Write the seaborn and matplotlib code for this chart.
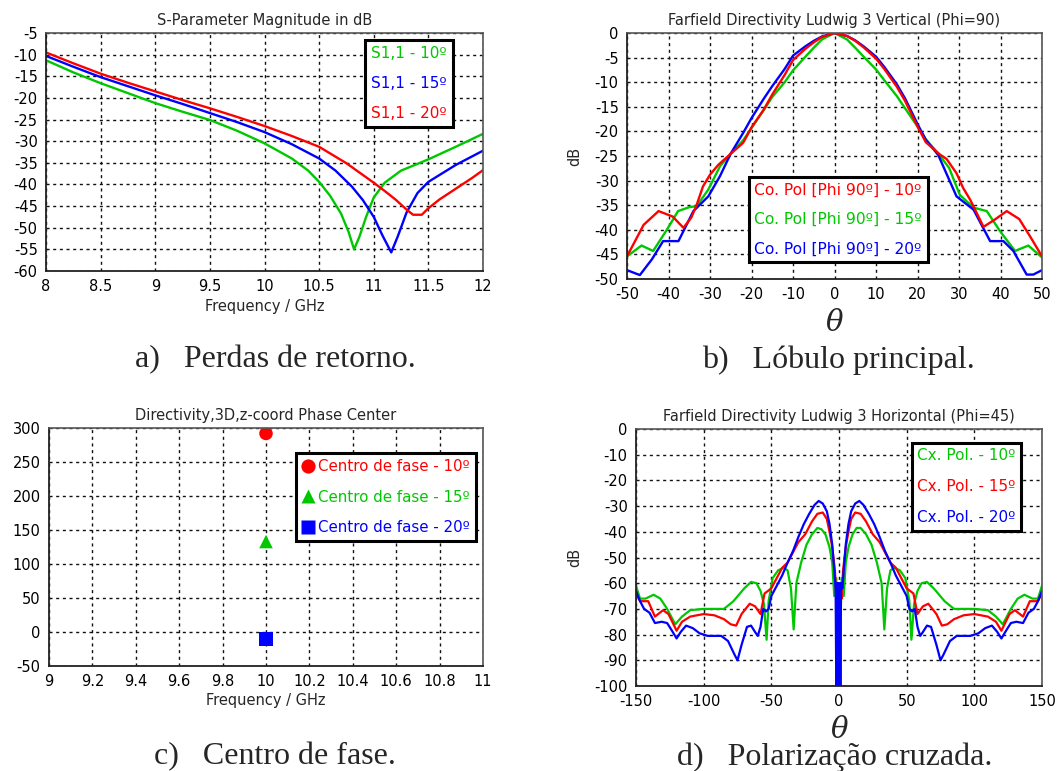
import numpy as np
import pandas as pd
import matplotlib
matplotlib.use("Agg")
import matplotlib.pyplot as plt
import seaborn as sns
from matplotlib.lines import Line2D

# ---------------- data ----------------
# (a) S-parameter magnitude
A_G_F = [8.0, 8.25, 8.5, 8.75, 9.0, 9.25, 9.5, 9.75, 10.0, 10.25, 10.4, 10.5, 10.6, 10.7, 10.77, 10.82, 10.87, 10.93, 11.0, 11.1, 11.25, 11.5, 11.75, 12.0]
A_G = [-11.3, -14.1, -16.6, -18.9, -21.2, -23.2, -25.1, -27.6, -30.5, -34.0, -36.8, -39.4, -42.6, -46.7, -51.0, -55.0, -52.0, -47.5, -43.0, -39.6, -36.8, -34.2, -31.3, -28.3]
A_B_F = [8.0, 8.25, 8.5, 8.75, 9.0, 9.25, 9.5, 9.75, 10.0, 10.25, 10.5, 10.65, 10.8, 10.9, 11.0, 11.08, 11.16, 11.22, 11.3, 11.4, 11.5, 11.75, 12.0]
A_B = [-10.3, -12.8, -15.2, -17.3, -19.4, -21.4, -23.5, -25.6, -27.9, -30.7, -34.0, -36.8, -40.5, -43.6, -47.5, -51.8, -55.7, -52.0, -46.5, -42.0, -39.4, -35.5, -32.2]
A_R_F = [8.0, 8.25, 8.5, 8.75, 9.0, 9.25, 9.5, 9.75, 10.0, 10.25, 10.5, 10.75, 11.0, 11.1, 11.2, 11.3, 11.36, 11.44, 11.5, 11.6, 11.75, 11.9, 12.0]
A_R = [-9.5, -12.0, -14.4, -16.5, -18.5, -20.5, -22.4, -24.4, -26.5, -28.8, -31.3, -35.1, -39.6, -41.5, -43.5, -45.8, -47.0, -47.0, -45.5, -43.5, -41.0, -38.5, -36.7]
A_LABELS = ["S1,1 - 10º", "S1,1 - 15º", "S1,1 - 20º"]

# (b) Co-pol main lobe
B_R_T = [-50, -46, -42.4, -39, -36.4, -34.5, -33.2, -31.7, -30, -28, -25.2, -22, -20, -17, -15, -12, -10, -7, -5, -3, 0,
         3, 5, 7, 10, 12, 15, 17, 20, 22, 25.4, 27, 29.4, 31, 32.7, 35.9, 38.5, 41.5, 44.5, 47.1, 50]
B_R = [-45.4, -39.0, -36.2, -37.3, -39.6, -37.5, -34.9, -31.2, -28.8, -26.8, -24.7, -22.3, -19.2, -15.5, -12.5, -8.5, -5.5, -3.2, -1.9, -0.8, 0.0,
       -0.6, -1.6, -2.9, -5.2, -7.3, -10.9, -13.8, -19.0, -22.2, -24.7, -25.6, -28.5, -31.5, -33.9, -39.4, -38.0, -36.2, -37.8, -41.3, -45.4]
B_G_T = [-50, -46.5, -43.7, -40.4, -37.7, -35, -33.2, -30.4, -27.6, -25, -22, -20, -17, -15, -12, -10, -7, -5, -3, 0,
         3, 5, 7, 10, 12, 15, 17, 20, 22, 25, 27.6, 30.2, 33.5, 36.7, 39.9, 43.5, 46.7, 50]
B_G = [-45.4, -43.2, -44.3, -40.0, -36.2, -35.4, -35.2, -31.8, -27.1, -24.5, -21.8, -19.3, -15.6, -13.0, -10.0, -7.6, -4.8, -3.0, -1.3, 0.0,
       -1.3, -3.0, -4.8, -7.4, -9.6, -12.8, -15.3, -19.0, -21.6, -24.5, -27.4, -32.9, -35.5, -36.2, -40.3, -44.3, -43.2, -45.6]
B_B_T = [-50, -46.9, -44, -41.3, -37.6, -34, -30.4, -27.6, -25, -22, -20, -17, -15, -12, -10, -7, -5, -3, 0,
         3, 5, 7, 10, 12, 15, 17, 20, 22, 25, 29.4, 33.5, 37.5, 40.7, 43.1, 46.3, 47.9, 50]
B_B = [-48.2, -49.2, -46.0, -42.3, -42.3, -36.2, -33.2, -29.1, -24.5, -20.3, -17.3, -13.3, -10.8, -7.3, -4.6, -2.7, -1.6, -0.7, 0.0,
       -0.6, -1.5, -2.7, -4.8, -6.9, -10.4, -13.3, -18.5, -21.7, -24.8, -33.2, -35.9, -42.3, -42.3, -44.3, -49.1, -49.1, -48.2]
B_LABELS = ["Co. Pol [Phi 90º] - 10º", "Co. Pol [Phi 90º] - 15º", "Co. Pol [Phi 90º] - 20º"]

# (c) Phase centre
C_FREQ = [10.0, 10.0, 10.0]
C_Z = [292, 133, -10]
C_LABELS = ["Centro de fase - 10º", "Centro de fase - 15º", "Centro de fase - 20º"]

# (d) Cross-pol
D_G_T = [-150, -147, -143, -137, -132, -127, -121, -116, -110, -100, -90, -85, -78, -70, -65, -61, -58, -55.5, -53.5, -52, -49, -45, -41, -38, -35.5, -33.5, -31.5, -28, -24, -20, -16, -13, -10, -7, -5, -3.5, -2, -1, 0,
         1, 2, 3.5, 5, 7, 10, 13, 16, 20, 24, 28, 31.5, 33.5, 35.5, 38, 41, 45, 49, 52, 53.5, 55.5, 58, 61, 65, 70, 78, 85, 90, 100, 110, 116, 121, 127, 132, 137, 143, 147, 150]
D_G = [-61, -66, -66, -64.5, -66, -70, -76, -73, -70.5, -70, -70, -70, -67, -62, -59.5, -60, -63, -68, -82, -67, -58, -55, -54, -55, -62, -78, -60, -52, -45, -41, -38.5, -39, -41, -46, -52, -65, -58, -77, -100,
       -77, -58, -65, -52, -46, -41, -38.5, -38.5, -41, -45, -52, -60, -78, -62, -55, -54, -55, -58, -67, -82, -68, -63, -60, -59.5, -62, -67, -70, -70, -70, -70.5, -73, -76, -70, -66, -64.5, -66, -66, -61]
D_R_T = [-150, -147, -141, -136, -130, -126, -120, -116, -110, -100, -92, -85, -80, -76, -72, -66, -62, -58, -55, -50, -46, -42, -38, -34, -30, -25, -20, -16, -12, -9, -7, -5, -3, -2, -1, 0,
         1, 2, 3, 5, 7, 9, 12, 16, 20, 25, 30, 34, 38, 42, 46, 50, 55, 58, 62, 66, 72, 76, 80, 85, 92, 100, 110, 116, 120, 126, 130, 136, 141, 147, 150]
D_R = [-64, -67, -67, -73, -70.5, -72, -78.5, -75, -73, -72, -72.5, -74, -76, -76.5, -72, -68, -69, -72, -64, -62, -58, -54, -52, -48, -44, -41, -36, -33, -32.5, -35, -40, -46, -55, -66, -62, -100,
       -62, -66, -55, -46, -40, -35, -32.5, -33, -36, -41, -44, -48, -52, -54, -58, -62, -64, -72, -69, -68, -72, -76.5, -76, -74, -72.5, -72, -73, -75, -78.5, -72, -70.5, -73, -67, -67, -64]
D_B_T = [-150, -147, -144, -140, -136, -131, -127, -124, -120, -117, -113, -108, -103, -97, -87, -82, -77, -75, -72, -68, -65, -62, -60, -58, -56, -54, -52, -50, -46, -42, -38, -34, -30, -26, -22, -18, -15, -12, -9, -7, -5, -3.5, -2.5,
         -2, -1.5, -1, -0.5, 0, 0.5, 1, 1.5,
         2.5, 3.5, 5, 7, 9, 12, 15, 18, 22, 26, 30, 34, 38, 42, 46, 50, 52, 54, 56, 58, 60, 62, 65, 68, 72, 75, 77, 82, 87, 97, 103, 108, 113, 117, 120, 124, 127, 131, 136, 140, 144, 147, 150]
D_B = [-63, -67, -70, -71.5, -75.5, -75, -75.5, -78, -81.5, -79, -76.5, -77.5, -79.5, -80.5, -80.5, -82.5, -88, -90, -84, -77, -76.5, -79, -80.5, -77, -70, -71, -70, -65, -61, -57, -52, -47.5, -42, -37, -33, -29.5, -28, -29, -32, -37, -45, -55, -62,
       -100, -60, -100, -60, -100, -60, -100, -60,
       -62, -55, -45, -37, -32, -29, -28, -29.5, -33, -37, -42, -47.5, -52, -57, -61, -65, -70, -71, -70, -77, -80.5, -79, -76.5, -77, -84, -90, -88, -82.5, -80.5, -80.5, -79.5, -77.5, -76.5, -79, -81.5, -78, -75.5, -75, -75.5, -71.5, -70, -67, -63]
D_LABELS = ["Cx. Pol. - 10º", "Cx. Pol. - 15º", "Cx. Pol. - 20º"]

RED = "#ff0000"
GREEN = "#00c800"
BLUE = "#0000ff"

# ---------------- style ----------------
sns.set_style("white")
plt.rcParams["font.family"] = ["DejaVu Sans"]
plt.rcParams["font.size"] = 10
plt.rcParams["axes.unicode_minus"] = False

W, H = 1061, 771
fig = plt.figure(figsize=(W / 100, H / 100), dpi=100)


def make_ax(l, r, t, b):
    return fig.add_axes([l / W, 1 - b / H, (r - l) / W, (b - t) / H])


def style(ax):
    ax.grid(True, color="#111111", linestyle=(0, (2.2, 2.6)), linewidth=1.0)
    for side in ["left", "bottom"]:
        ax.spines[side].set_color("#222222")
        ax.spines[side].set_linewidth(1.3)
    for side in ["top", "right"]:
        ax.spines[side].set_color("#555555")
        ax.spines[side].set_linewidth(1.2)
    ax.tick_params(axis="both", direction="out", length=4, width=1, colors="#222222",
                   labelsize=10.5, pad=2, labelcolor="black")
    ax.set_axisbelow(True)


def text_legend(ax, labels, colors, anchor, fs=11, spacing=0.6, bpad=0.4):
    handles = [Line2D([], [], linestyle="none") for _ in labels]
    leg = ax.legend(handles, labels, loc="upper left", bbox_to_anchor=anchor,
                    handlelength=0, handletextpad=0, fancybox=False, framealpha=1,
                    edgecolor="black", fontsize=fs, borderpad=bpad, labelspacing=spacing,
                    borderaxespad=0)
    leg.get_frame().set_linewidth(2.2)
    for t, c in zip(leg.get_texts(), colors):
        t.set_color(c)
    return leg


# ---- (a)
ax = make_ax(46, 483, 33, 271)
style(ax)
sns.lineplot(x=A_G_F, y=A_G, color=GREEN, lw=1.7, ax=ax, estimator=None)
sns.lineplot(x=A_B_F, y=A_B, color=BLUE, lw=1.7, ax=ax, estimator=None)
sns.lineplot(x=A_R_F, y=A_R, color=RED, lw=1.7, ax=ax, estimator=None)
ax.set_xlim(8, 12)
ax.set_ylim(-60, -5)
ax.set_xticks(np.arange(8, 12.01, 0.5))
ax.set_xticklabels(["8", "8.5", "9", "9.5", "10", "10.5", "11", "11.5", "12"])
ax.set_yticks(np.arange(-60, -4, 5))
ax.set_title("S-Parameter Magnitude in dB", fontsize=10.5, pad=6)
ax.set_xlabel("Frequency / GHz", fontsize=10.5, labelpad=3)
ax.set_ylabel("")
text_legend(ax, A_LABELS, [GREEN, BLUE, RED], (0.730, 0.971), fs=11, spacing=0.98, bpad=0.4)

# ---- (b)
ax = make_ax(627, 1042, 33, 279)
style(ax)
sns.lineplot(x=B_G_T, y=B_G, color=GREEN, lw=1.7, ax=ax, estimator=None)
sns.lineplot(x=B_B_T, y=B_B, color=BLUE, lw=1.7, ax=ax, estimator=None)
sns.lineplot(x=B_R_T, y=B_R, color=RED, lw=1.7, ax=ax, estimator=None)
ax.set_xlim(-50, 50)
ax.set_ylim(-50, 0)
ax.set_xticks(np.arange(-50, 51, 10))
ax.set_yticks(np.arange(-50, 1, 5))
ax.set_title("Farfield Directivity Ludwig 3 Vertical (Phi=90)", fontsize=10.5, pad=6)
ax.set_xlabel("θ", fontsize=21, fontstyle="italic", family="DejaVu Serif", labelpad=5)
ax.set_ylabel("dB", fontsize=10.5, labelpad=9)
text_legend(ax, B_LABELS, [RED, GREEN, BLUE], (0.294, 0.415), fs=11.2, spacing=0.95, bpad=0.35)

# ---- (c)
ax = make_ax(49, 483, 428, 666)
style(ax)
pc = pd.DataFrame({"freq": C_FREQ, "z": C_Z, "serie": C_LABELS})
sns.scatterplot(data=pc, x="freq", y="z", hue="serie", style="serie",
                palette=[RED, GREEN, BLUE], markers=["o", "^", "s"], s=95,
                edgecolor="none", ax=ax, legend=True)
ax.set_xlim(9, 11)
ax.set_ylim(-50, 300)
ax.set_xticks(np.arange(9, 11.01, 0.2))
ax.set_xticklabels(["9", "9.2", "9.4", "9.6", "9.8", "10", "10.2", "10.4", "10.6", "10.8", "11"])
ax.set_yticks(np.arange(-50, 301, 50))
ax.set_title("Directivity,3D,z-coord Phase Center", fontsize=10.5, pad=6)
ax.set_xlabel("Frequency / GHz", fontsize=10.5, labelpad=3)
ax.set_ylabel("")
leg = ax.legend(loc="upper left", bbox_to_anchor=(0.569, 0.895), fancybox=False, framealpha=1,
                edgecolor="black", fontsize=10.8, handlelength=0.8, handletextpad=0.3,
                borderpad=0.4, labelspacing=1.05, markerscale=1.05, borderaxespad=0)
leg.get_frame().set_linewidth(2.2)
for t, c in zip(leg.get_texts(), [RED, GREEN, BLUE]):
    t.set_color(c)

# ---- (d)
ax = make_ax(636, 1042, 429, 686)
style(ax)
sns.lineplot(x=D_G_T, y=D_G, color=GREEN, lw=1.6, ax=ax, estimator=None, sort=False)
sns.lineplot(x=D_R_T, y=D_R, color=RED, lw=1.6, ax=ax, estimator=None, sort=False)
sns.lineplot(x=D_B_T, y=D_B, color=BLUE, lw=1.6, ax=ax, estimator=None, sort=False)
ax.set_xlim(-150, 150)
ax.set_ylim(-100, 0)
ax.set_xticks(np.arange(-150, 151, 50))
ax.set_yticks(np.arange(-100, 1, 10))
ax.set_title("Farfield Directivity Ludwig 3 Horizontal (Phi=45)", fontsize=10.5, pad=6)
ax.set_xlabel("θ", fontsize=21, fontstyle="italic", family="DejaVu Serif", labelpad=5)
ax.set_ylabel("dB", fontsize=10.5, labelpad=9)
text_legend(ax, D_LABELS, [GREEN, RED, BLUE], (0.680, 0.946), fs=11, spacing=1.05, bpad=0.35)

# ---- captions
cap = dict(fontsize=23, family="Liberation Serif", ha="center", va="center")
fig.text(275 / W, 1 - 360 / H, "a)   Perdas de retorno.", **cap)
fig.text(838 / W, 1 - 360 / H, "b)   Lóbulo principal.", **cap)
fig.text(275 / W, 1 - 757 / H, "c)   Centro de fase.", **cap)
fig.text(835 / W, 1 - 757 / H, "d)   Polarização cruzada.", **cap)

fig.savefig("out.png", dpi=100)
